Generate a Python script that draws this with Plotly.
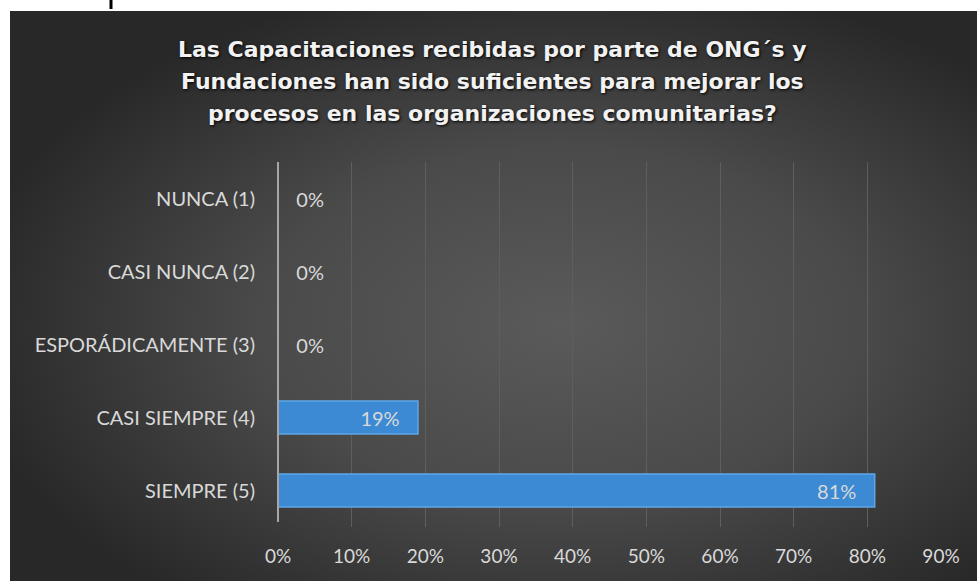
import base64
import plotly.graph_objects as go

categories = ["NUNCA (1)", "CASI NUNCA (2)", "ESPORÁDICAMENTE (3)", "CASI SIEMPRE (4)", "SIEMPRE (5)"]
values = [0.0, 0.0, 0.0, 0.19, 0.81]
labels = ["0%", "0%", "0%", "19%", "81%"]
tick_vals = [0, 0.1, 0.2, 0.3, 0.4, 0.5, 0.6, 0.7, 0.8, 0.9]
tick_text = ["0%", "10%", "20%", "30%", "40%", "50%", "60%", "70%", "80%", "90%"]
title_lines = ["Las Capacitaciones recibidas por parte de ONG´s y",
               "Fundaciones han sido suficientes para mejorar los",
               "procesos en las organizaciones comunitarias?"]

W, H = 977, 581
ML, MR, MT, MB = 278, 36, 162, 54
pw, ph = W - ML - MR, H - MT - MB

def px2x(px):
    return (px - ML) / pw

def py2y(py):
    return (H - MB - py) / ph

svg = ("<svg xmlns='http://www.w3.org/2000/svg' width='967' height='570' viewBox='0 0 967 570' preserveAspectRatio='none'>"
       "<defs><radialGradient id='g' cx='57%' cy='55%' r='62%'>"
       "<stop offset='0' stop-color='#5a5a5a'/><stop offset='0.5' stop-color='#4a4a4a'/><stop offset='1' stop-color='#282828'/>"
       "</radialGradient></defs><rect width='967' height='570' fill='url(#g)'/></svg>")
src = "data:image/svg+xml;base64," + base64.b64encode(svg.encode()).decode()

NB = "\u00a0"
textpos = ["outside" if v == 0 else "inside" for v in values]
shown = [(NB * 3 + t) if v == 0 else (t + NB * 3) for v, t in zip(values, labels)]

fig = go.Figure()
fig.add_trace(go.Bar(
    y=categories, x=values, orientation="h",
    marker=dict(color="#3c8ad4", line=dict(color="#5ea8e8", width=1.5)),
    text=shown, textposition=textpos, insidetextanchor="end",
    textfont=dict(family="Lato", size=20, color="#d9d9d9"),
    outsidetextfont=dict(family="Lato", size=20, color="#d9d9d9"),
    insidetextfont=dict(family="Lato", size=20, color="#d9d9d9"),
    cliponaxis=False, width=0.45,
))

annotations = []
for i, line in enumerate(title_lines):
    annotations.append(dict(
        text=line, xref="paper", yref="paper", x=px2x(492), y=py2y(50 + 31.5 * i),
        xanchor="center", yanchor="middle", showarrow=False,
        font=dict(family="DejaVu Sans", size=22, color="#f2f2f2", weight="bold",
                  shadow="1px 1px 3px #000000")))

fig.update_layout(
    width=W, height=H,
    margin=dict(l=ML, r=MR, t=MT, b=MB, pad=0),
    paper_bgcolor="white", plot_bgcolor="rgba(0,0,0,0)",
    showlegend=False,
    xaxis=dict(range=[0, 0.9], tickvals=tick_vals, ticktext=tick_text,
               showgrid=True, gridcolor="#5e5e5e", gridwidth=1, zeroline=False,
               showline=False, ticks="", ticklabelstandoff=16,
               tickfont=dict(family="Lato", size=19, color="#d9d9d9")),
    yaxis=dict(categoryorder="array", categoryarray=categories, autorange="reversed",
               showgrid=False, zeroline=False, showline=False, ticks="",
               ticklabelstandoff=22,
               tickfont=dict(family="Lato", size=20, color="#d9d9d9")),
    images=[dict(source=src, xref="paper", yref="paper",
                 x=px2x(10), y=py2y(11), sizex=px2x(W) - px2x(10), sizey=py2y(11) - py2y(H),
                 xanchor="left", yanchor="top", sizing="stretch", layer="below")],
    shapes=[dict(type="line", xref="paper", yref="paper", x0=0, x1=0,
                 y0=py2y(522), y1=1, line=dict(color="#a6a6a6", width=2)),
            dict(type="line", xref="paper", yref="paper", x0=px2x(111), x1=px2x(111),
                 y0=py2y(0), y1=py2y(9), line=dict(color="black", width=3))],
    annotations=annotations,
)

fig.write_html("out.html", config={"displayModeBar": False},
               post_script="document.body.style.margin='0px';")
